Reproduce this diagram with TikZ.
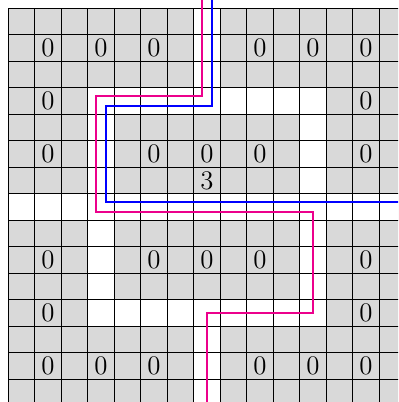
\documentclass[tikz,border=0pt]{standalone}
\definecolor{pathpink}{RGB}{236,0,140}
\definecolor{pathblue}{RGB}{0,0,255}
\definecolor{cellgray}{RGB}{217,217,217}
\tikzset{
  gridline/.style={line width=0.5pt,black},
  freecell/.style={fill=white},
  numlabel/.style={inner sep=0pt,font=\Large},
  pinkroute/.style={line width=1pt,pathpink},
  blueroute/.style={line width=1pt,pathblue}
}
\begin{document}
\begin{tikzpicture}[x=0.5cm,y=-0.5cm]
\clip (-0.31,-0.31) rectangle (14.71,14.86);
\fill[white] (-1,-1) rectangle (16,16);
\fill[cellgray] (0,0) rectangle (15,15);
% free cells
\fill[freecell] (7,0) rectangle (8,4);
\fill[freecell] (7,11) rectangle (8,15);
\fill[freecell] (3,3) rectangle (12,4);
\fill[freecell] (3,11) rectangle (12,12);
\fill[freecell] (3,3) rectangle (4,12);
\fill[freecell] (11,3) rectangle (12,12);
\fill[freecell] (0,7) rectangle (15,8);
% grid
\foreach \k in {0,...,15} {
  \draw[gridline] (\k,0) -- (\k,15);
  \draw[gridline] (0,\k) -- (15,\k);
}
% numbers
\foreach \c in {1,3,5,9,11,13} {
  \node[numlabel] (za\c) at (\c+0.5,1.5) {0};
  \node[numlabel] (zb\c) at (\c+0.5,13.5) {0};
}
\foreach \c in {1,13} {
  \node[numlabel] (zc\c) at (\c+0.5,3.5) {0};
  \node[numlabel] (zd\c) at (\c+0.5,11.5) {0};
}
\foreach \c in {1,5,7,9,13} {
  \node[numlabel] (ze\c) at (\c+0.5,5.5) {0};
  \node[numlabel] (zf\c) at (\c+0.5,9.5) {0};
}
\node[numlabel] (three) at (7.5,6.5) {3};
% routes
\coordinate (ptop) at (7.3,-1);
\coordinate (pbot) at (7.5,16);
\coordinate (btop) at (7.7,-1);
\coordinate (bend) at (16,7.3);
\draw[pinkroute] (ptop) -- (7.3,3.3) -- (3.3,3.3) -- (3.3,7.7) -- (11.5,7.7) -- (11.5,11.5) -- (7.5,11.5) -- (pbot);
\draw[blueroute] (btop) -- (7.7,3.7) -- (3.7,3.7) -- (3.7,7.3) -- (bend);
\end{tikzpicture}
\end{document}
